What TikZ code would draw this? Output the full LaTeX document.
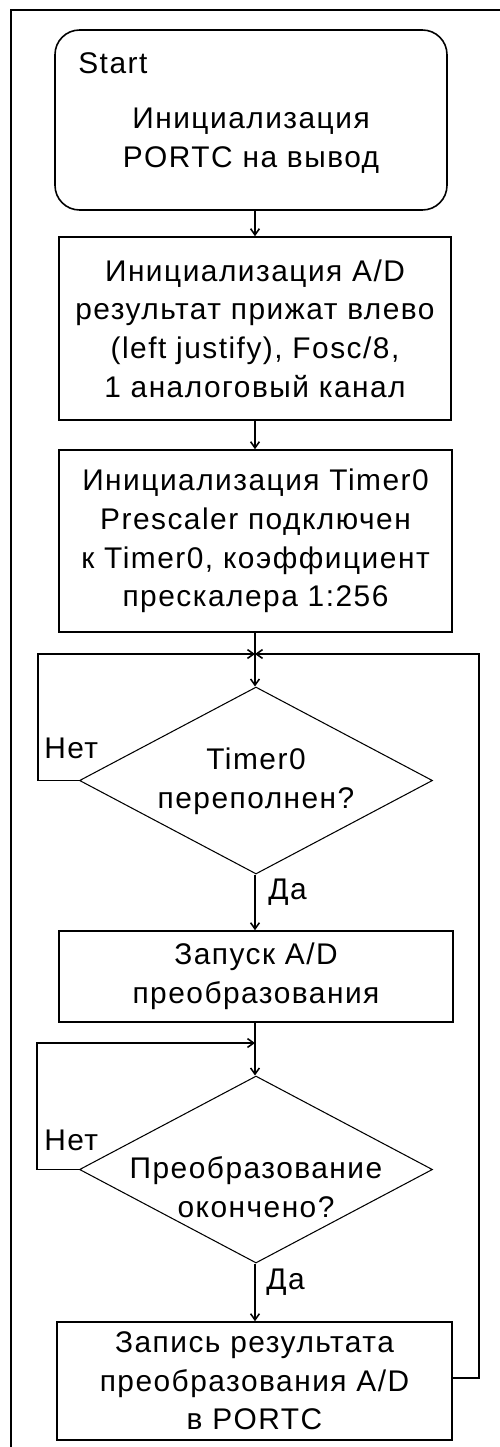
\documentclass[tikz,border=0pt]{standalone}
\usepackage{fontspec}
\setmainfont{Liberation Sans}[LetterSpace=5]
\usetikzlibrary{shapes.geometric,arrows.meta}
\tikzset{
  box/.style={draw, line width=0.9pt, inner sep=0pt, align=center},
  term/.style={box, rounded corners=14pt},
  decision/.style={draw, shape=diamond, line width=0.6pt, inner sep=0pt},
  txt/.style={inner sep=0pt, align=center},
  flow/.style={line width=0.9pt, -{Straight Barb[length=3.5pt,width=5pt]}},
  wire/.style={line width=0.9pt},
  every node/.style={font=\fontsize{17}{22}\selectfont}
}
\begin{document}
\begin{tikzpicture}[x=0.02cm,y=-0.02cm]
\useasboundingbox (0,0) rectangle (500,1447);
% page frame
\draw[line width=1.2pt] (11,1447) -- (11,10) -- (500,10);

% blocks
\node[term, minimum width=392*0.02cm, minimum height=180*0.02cm] (start) at (251,120) {};
\node[txt, anchor=west] (startlbl) at (78,63) {Start};
\node[txt] (starttxt) at (251,141) {Инициализация\\PORTC на вывод};

\node[box, minimum width=392*0.02cm, minimum height=183*0.02cm] (adinit) at (255,328.5)
  {Инициализация A/D\\результат прижат влево\\(left justify), Fosc/8,\\1 аналоговый канал};

\node[box, minimum width=393*0.02cm, minimum height=182*0.02cm] (tminit) at (255.5,541)
  {Инициализация Timer0\\Prescaler подключен\\к Timer0, коэффициент\\прескалера 1:256};

\node[decision, minimum width=353*0.02cm, minimum height=187*0.02cm] (d1) at (256,780.5) {};
\node[txt] (d1txt) at (256,781) {Timer0\\переполнен?};

\node[box, minimum width=394*0.02cm, minimum height=91*0.02cm] (adstart) at (256,976.5)
  {Запуск A/D\\преобразования};

\node[decision, minimum width=353*0.02cm, minimum height=187*0.02cm] (d2) at (256,1169.5) {};
\node[txt] (d2txt) at (256,1187) {Преобразование\\окончено?};

\node[box, minimum width=395*0.02cm, minimum height=118*0.02cm] (write) at (254.5,1381)
  {Запись результата\\преобразования A/D\\в PORTC};

% junctions of the loops
\coordinate (j1) at (255,654);
\coordinate (j2) at (255,1043);

% main flow
\draw[flow] (start.south -| 255,0) -- (adinit.north -| 255,0);
\draw[flow] (adinit.south -| 255,0) -- (tminit.north -| 255,0);
\draw[flow] (tminit.south -| 255,0) -- (d1.north -| 255,0);
\draw[flow] (d1.south -| 255,0) -- (adstart.north -| 255,0);
\draw[flow] (adstart.south -| 255,0) -- (d2.north -| 255,0);
\draw[flow] (d2.south -| 255,0) -- (write.north -| 255,0);

% loops
\draw[flow] (d1.west) -- (38,780.5) -- (38,654) -- (j1);
\draw[flow] (write.east |- 0,1378) -- (479,1378) -- (479,654) -- (j1);
\draw[flow] (d2.west) -- (37,1169.5) -- (37,1043) -- (j2);

% branch labels
\node[txt, anchor=west] (no1) at (44,748) {Нет};
\node[txt, anchor=west] (no2) at (44,1140) {Нет};
\node[txt, anchor=west] (yes1) at (268,892) {Да};
\node[txt, anchor=west] (yes2) at (266,1282) {Да};
\end{tikzpicture}
\end{document}
